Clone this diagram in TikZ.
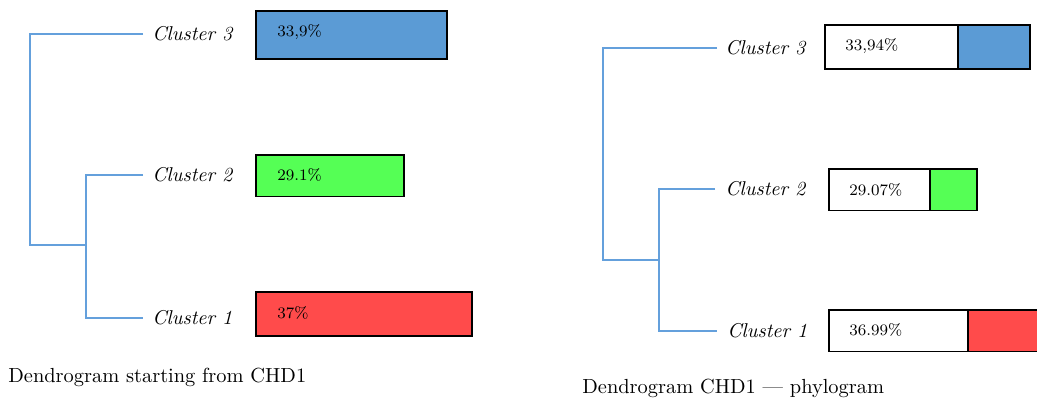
\documentclass[tikz,border=0pt]{standalone}
\usetikzlibrary{positioning}
\definecolor{branchcolor}{RGB}{100,160,220}
\definecolor{clthree}{RGB}{91,155,213}
\definecolor{cltwo}{RGB}{85,255,85}
\definecolor{clone}{RGB}{255,75,75}
\tikzset{
  branch/.style={draw=branchcolor, line width=1pt},
  clabel/.style={inner sep=0pt, anchor=west, font=\fontsize{10}{12}\selectfont\itshape},
  bar/.style={draw=black, line width=0.7pt, inner sep=0pt, outer sep=0pt, anchor=north west},
  val/.style={inner sep=0pt, anchor=west, font=\fontsize{8}{9}\selectfont},
  caption/.style={inner sep=0pt, anchor=west, font=\fontsize{10.2}{12}\selectfont}
}
\begin{document}
\begin{tikzpicture}[x=0.5pt, y=-0.5pt]
\useasboundingbox (0,0) rectangle (1037,401);
% left dendrogram
\node[clabel] (l3) at (152,34) {Cluster 3};
\node[clabel] (l2) at (152,175) {Cluster 2};
\node[clabel] (l1) at (152,318) {Cluster 1};
\coordinate (root) at (30,245);
\coordinate (join) at (86,245);
\draw[branch] ([xshift=-4.5pt]l3.west) -| (root) -- (join);
\draw[branch] ([xshift=-4.5pt]l2.west) -| (join) |- ([xshift=-4.5pt]l1.west);
\node[bar, fill=clthree, minimum width=95.5pt, minimum height=24pt] (b3) at (256,11) {};
\node[bar, fill=cltwo, minimum width=74pt, minimum height=20.8pt] (b2) at (256,155) {};
\node[bar, fill=clone, minimum width=108pt, minimum height=22pt] (b1) at (256,292) {};
\node[val] (v3) at (277,32) {33,9\%};
\node[val] (v2) at (277,175) {29.1\%};
\node[val] (v1) at (277,313) {37\%};
\node[caption] (capl) at (8,377) {Dendrogram starting from CHD1};
% right dendrogram (phylogram)
\node[clabel] (r3) at (725,48) {Cluster 3};
\node[clabel] (r2) at (725,189) {Cluster 2};
\node[clabel] (r1) at (727,331) {Cluster 1};
\coordinate (rroot) at (603,260);
\coordinate (rjoin) at (659,260);
\draw[branch] ([xshift=-4pt]r3.west) -| (rroot) -- (rjoin);
\draw[branch] ([xshift=-5pt]r2.west) -| (rjoin) |- ([xshift=-5pt]r1.west);
\node[bar, fill=white, minimum width=66.5pt, minimum height=22pt] (w3) at (825,25) {};
\node[bar, fill=clthree, minimum width=36pt, minimum height=22pt] (c3) at (w3.north east) {};
\node[bar, fill=white, minimum width=50.5pt, minimum height=20.8pt] (w2) at (829,169) {};
\node[bar, fill=cltwo, minimum width=23.5pt, minimum height=20.8pt] (c2) at (w2.north east) {};
\node[bar, fill=white, minimum width=69.5pt, minimum height=20.8pt] (w1) at (829,310) {};
\node[bar, fill=clone, minimum width=40pt, minimum height=20.8pt] (c1) at (w1.north east) {};
\node[val] (s3) at (845,46) {33,94\%};
\node[val] (s2) at (849,190) {29.07\%};
\node[val] (s1) at (849,330) {36.99\%};
\node[caption] (capr) at (582,388) {Dendrogram CHD1 --- phylogram};
\end{tikzpicture}
\end{document}
